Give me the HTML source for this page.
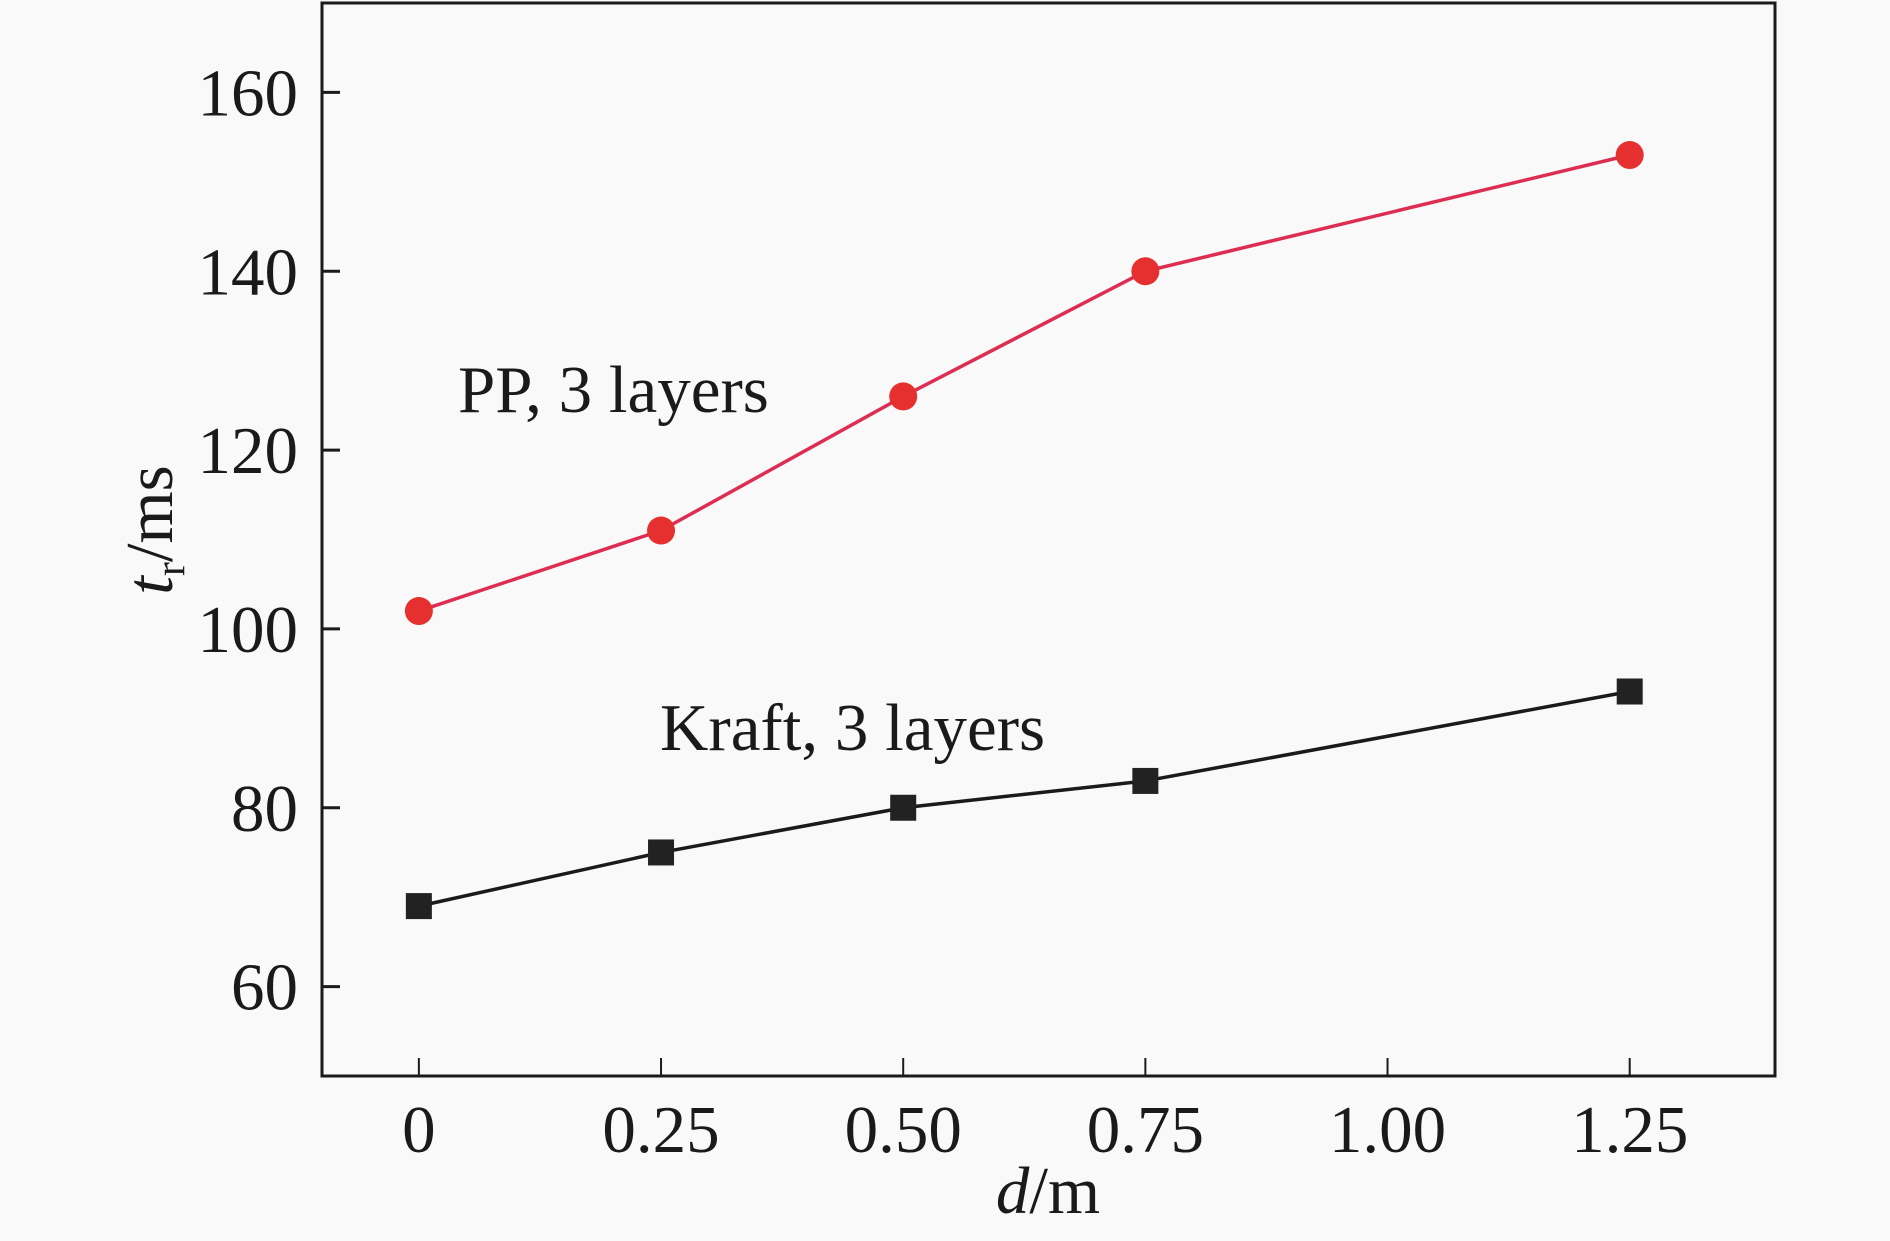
<!DOCTYPE html>
<html><head><meta charset="utf-8"><style>
html,body{margin:0;padding:0;background:#f9f9f9;}
svg{display:block;font-family:"Liberation Serif",serif;}
</style></head><body>
<svg id="chart" width="1890" height="1241" viewBox="0 0 1890 1241"></svg>
<script>
const xCats = [0, 0.25, 0.5, 0.75, 1.25];
const ppValues = [102, 111, 126, 140, 153];
const kraftValues = [69, 75, 80, 83, 93];
const xTickValues = [0, 0.25, 0.5, 0.75, 1.0, 1.25];
const xTickLabels = ["0", "0.25", "0.50", "0.75", "1.00", "1.25"];
const yTickValues = [60, 80, 100, 120, 140, 160];
const yTickLabels = ["60", "80", "100", "120", "140", "160"];

const L = 322, R = 1775, T = 3, B = 1076;
const xMin = -0.1, xMax = 1.4, yMin = 50, yMax = 170;
const xs = v => L + (v - xMin) / (xMax - xMin) * (R - L);
const ys = v => B - (v - yMin) / (yMax - yMin) * (B - T);
const NS = "http://www.w3.org/2000/svg";
const svg = document.getElementById('chart');
const FS = 67;
function mk(tag, attrs, parent) {
  const e = document.createElementNS(NS, tag);
  for (const k in attrs) e.setAttribute(k, attrs[k]);
  (parent || svg).appendChild(e);
  return e;
}

const frame = mk('rect', {x: L, y: T, width: R - L, height: B - T, fill: 'none', stroke: '#1a1a1a', 'stroke-width': 3});



yTickValues.forEach((v, i) => {
  const t = mk('line', {x1: L, x2: L + 18, y1: ys(v), y2: ys(v), stroke: '#1a1a1a', 'stroke-width': 3});
  
  
  const lb = mk('text', {x: 298, y: ys(v) + 23, 'text-anchor': 'end', 'font-size': FS, fill: '#1a1a1a'});
  lb.textContent = yTickLabels[i];
  
  
});
xTickValues.forEach((v, i) => {
  const t = mk('line', {x1: xs(v), x2: xs(v), y1: B, y2: B - 18, stroke: '#1a1a1a', 'stroke-width': 2});
  
  
  const lb = mk('text', {x: xs(v), y: 1152, 'text-anchor': 'middle', 'font-size': FS, fill: '#1a1a1a'});
  lb.textContent = xTickLabels[i];
  
  
});

const xt = mk('text', {x: 1048, y: 1213, 'text-anchor': 'middle', 'font-size': FS, fill: '#1a1a1a'});
xt.innerHTML = '<tspan font-style="italic">d</tspan>/m';


const yt = mk('text', {x: 0, y: 0, 'text-anchor': 'middle', 'font-size': FS, fill: '#1a1a1a', transform: 'translate(172,530) rotate(-90)'});
yt.innerHTML = '<tspan font-style="italic">t</tspan><tspan font-size="42" dy="12">r</tspan><tspan dy="-12">/ms</tspan>';



function series(vals, color, name, marker) {
  const g = mk('g', {});
  
  
  const pts = vals.map((v, i) => xs(xCats[i]) + ',' + ys(v)).join(' ');
  const pl = mk('polyline', {points: pts, fill: 'none', stroke: color.line, 'stroke-width': 3.5}, g);
  
  
  vals.forEach((v, i) => {
    let m;
    if (marker === 'circle') m = mk('circle', {cx: xs(xCats[i]), cy: ys(v), r: 14, fill: color.mark}, g);
    else m = mk('rect', {x: xs(xCats[i]) - 13, y: ys(v) - 13, width: 26, height: 26, fill: color.mark}, g);
    
    
  });
}
series(ppValues, {line: '#de2d52', mark: '#e6302f'}, 'pp-series', 'circle');
series(kraftValues, {line: '#1a1a1a', mark: '#222'}, 'kraft-series', 'square');

const a1 = mk('text', {x: 458, y: 412, 'font-size': FS, fill: '#1a1a1a'});
a1.textContent = 'PP, 3 layers';


const a2 = mk('text', {x: 660, y: 750, 'font-size': FS, fill: '#1a1a1a'});
a2.textContent = 'Kraft, 3 layers';


</script>
</body></html>
